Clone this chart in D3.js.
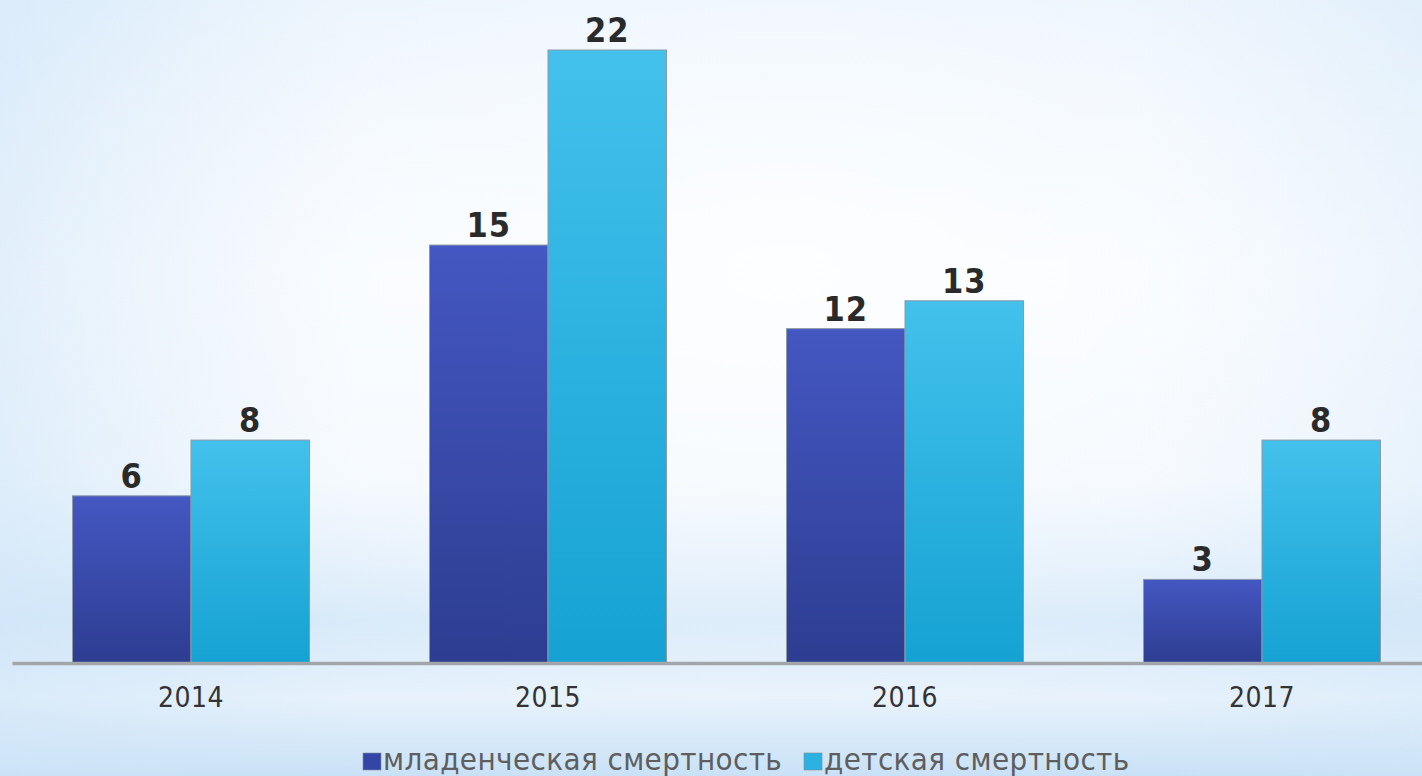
<!DOCTYPE html>
<html>
<head>
<meta charset="utf-8">
<script src="https://cdn.jsdelivr.net/npm/d3@7"></script>
<style>
  html, body { margin: 0; padding: 0; overflow: hidden; }
  svg { display: block; }
</style>
</head>
<body>
<svg id="chart" width="1422" height="776"></svg>
<script>
// Data
const years = ["2014", "2015", "2016", "2017"];
const seriesNames = ["младенческая смертность", "детская смертность"];
const infant = [6, 15, 12, 3];
const child = [8, 22, 13, 8];

const W = 1422, H = 776;
const svg = d3.select("#chart");
const defs = svg.append("defs");

// Background: soft pale-blue wash
const bgV = defs.append("linearGradient").attr("id", "bgV")
  .attr("x1", 0).attr("y1", 0).attr("x2", 0).attr("y2", 1);
[[0, "#eaf4fd"], [0.35, "#f6faff"], [0.62, "#f2f8fe"], [0.8, "#d6e9f9"],
 [0.9, "#e7f2fc"], [1, "#c9e1f6"]].forEach(([o, c]) =>
  bgV.append("stop").attr("offset", o).attr("stop-color", c));

const bgR = defs.append("radialGradient").attr("id", "bgR")
  .attr("cx", 0.55).attr("cy", 0.35).attr("r", 0.6);
bgR.append("stop").attr("offset", 0).attr("stop-color", "#ffffff").attr("stop-opacity", 0.75);
bgR.append("stop").attr("offset", 1).attr("stop-color", "#ffffff").attr("stop-opacity", 0);

const bgL = defs.append("linearGradient").attr("id", "bgL")
  .attr("x1", 0).attr("y1", 0).attr("x2", 1).attr("y2", 0);
bgL.append("stop").attr("offset", 0).attr("stop-color", "#cfe5f8").attr("stop-opacity", 0.55);
bgL.append("stop").attr("offset", 0.25).attr("stop-color", "#cfe5f8").attr("stop-opacity", 0);
bgL.append("stop").attr("offset", 0.8).attr("stop-color", "#cfe5f8").attr("stop-opacity", 0);
bgL.append("stop").attr("offset", 1).attr("stop-color", "#cfe5f8").attr("stop-opacity", 0.35);

svg.append("rect").attr("width", W).attr("height", H).attr("fill", "url(#bgV)");
svg.append("rect").attr("width", W).attr("height", H).attr("fill", "url(#bgL)");
svg.append("rect").attr("width", W).attr("height", H).attr("fill", "url(#bgR)");

// Bar fills
const palettes = [
  { id: "gInfant", top: "#4457c2", bottom: "#2d3d91", swatch: "#3346a8" },
  { id: "gChild", top: "#43c1ec", bottom: "#15a2d3", swatch: "#2bb2e2" }
];
palettes.forEach(p => {
  const g = defs.append("linearGradient").attr("id", p.id)
    .attr("x1", 0).attr("y1", 0).attr("x2", 0).attr("y2", 1);
  g.append("stop").attr("offset", 0).attr("stop-color", p.top);
  g.append("stop").attr("offset", 1).attr("stop-color", p.bottom);
});

// Scales
const baseY = 663;
const x = d3.scaleBand().domain(years).range([12.5, 1440.5])
  .paddingInner(120 / 357).paddingOuter(60 / 357);
const xs = d3.scaleBand().domain([0, 1]).range([0, x.bandwidth()]);
const y = d3.scaleLinear().domain([0, 22]).range([baseY, 50]);

const rows = years.map((yr, i) => ({ year: yr, values: [infant[i], child[i]] }));

const groups = svg.append("g").selectAll("g").data(rows).join("g")
  .attr("transform", d => `translate(${x(d.year)},0)`);

groups.selectAll("rect").data(d => d.values.map((v, k) => ({ v, k })))
  .join("rect")
  .attr("x", d => xs(d.k))
  .attr("width", xs.bandwidth())
  .attr("y", d => y(d.v))
  .attr("height", d => y(0) - y(d.v))
  .attr("fill", d => `url(#${palettes[d.k].id})`)
  .attr("stroke", "#8c9aa8")
  .attr("stroke-width", 1);

// Value labels
groups.selectAll("text.val").data(d => d.values.map((v, k) => ({ v, k })))
  .join("text")
  .attr("class", "val")
  .attr("x", d => xs(d.k) + xs.bandwidth() / 2)
  .attr("y", d => y(d.v) - 8)
  .attr("text-anchor", "middle")
  .attr("font-family", "'DejaVu Sans Condensed', 'DejaVu Sans', sans-serif")
  .attr("font-weight", "bold")
  .attr("font-size", 34)
  .attr("letter-spacing", 1)
  .attr("fill", "#2a2a2a")
  .text(d => d.v);

// Category axis
const axis = d3.axisBottom(x).tickSize(0).tickPadding(0);
const axG = svg.append("g").attr("transform", `translate(0,${baseY})`).call(axis);
axG.select(".domain").attr("stroke", "#a2a6aa").attr("stroke-width", 3.5)
  .attr("d", `M12.5,0.5H1440`);
axG.selectAll(".tick text")
  .attr("dy", 0).attr("y", 44)
  .attr("font-family", "'DejaVu Sans Condensed', 'DejaVu Sans', sans-serif")
  .attr("font-size", 28)
  .attr("letter-spacing", 0.5)
  .attr("fill", "#333333");

// Legend
const legendItems = [
  { name: seriesNames[0], sx: 363, tx: 383, k: 0 },
  { name: seriesNames[1], sx: 804, tx: 824, k: 1 }
];
const lg = svg.append("g").selectAll("g").data(legendItems).join("g");
lg.append("rect")
  .attr("x", d => d.sx).attr("y", 753).attr("width", 18).attr("height", 17)
  .attr("fill", d => palettes[d.k].swatch)
  .attr("stroke", "#7f8c99").attr("stroke-width", 0.6);
lg.append("text")
  .attr("x", d => d.tx).attr("y", 770)
  .attr("font-family", "'DejaVu Sans Condensed', 'DejaVu Sans', sans-serif")
  .attr("font-size", 31)
  .attr("letter-spacing", 0.4)
  .attr("fill", "#5e5e5e")
  .text(d => d.name);
</script>
</body>
</html>
